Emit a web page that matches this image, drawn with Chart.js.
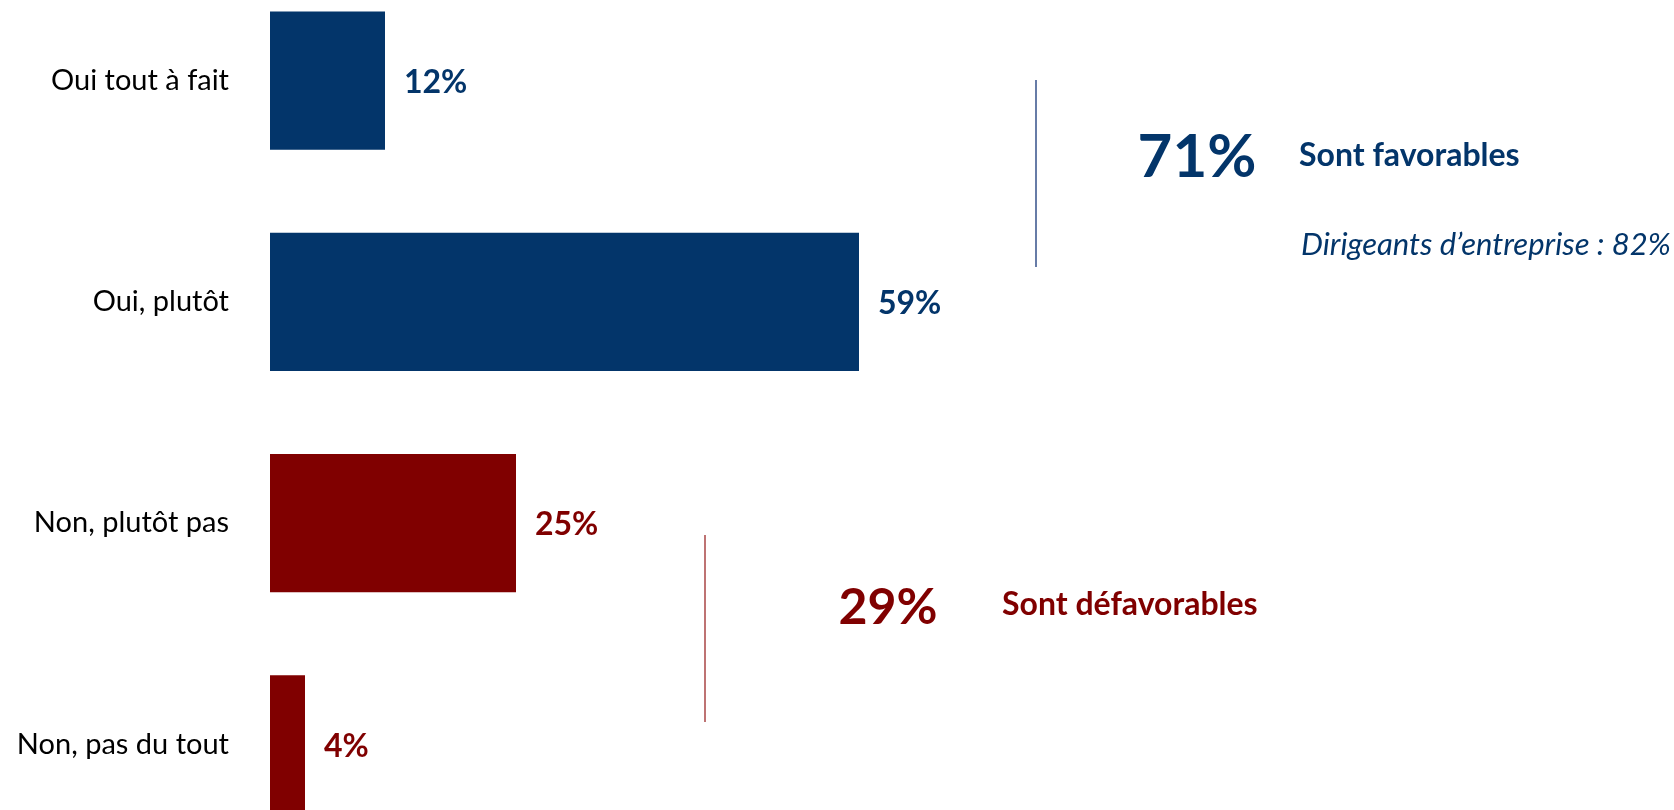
<!DOCTYPE html>
<html lang="fr">
<head>
<meta charset="utf-8">
<title>Sont favorables / défavorables</title>
<script src="https://cdn.jsdelivr.net/npm/chart.js@4/dist/chart.umd.min.js"></script>
<style>
    html, body { margin: 0; padding: 0; background: #fff; overflow: hidden; }
    body { width: 1674px; height: 810px; position: relative; }
    /* le graphique déborde un peu en haut et en bas, comme l'original */
    #zone { position: absolute; left: 0; top: -30px; width: 1674px; height: 885px; }
</style>
</head>
<body>
<div id="zone"><canvas id="graphique"></canvas></div>
<script>
// Données
const categories = ['Oui tout à fait', 'Oui, plutôt', 'Non, plutôt pas', 'Non, pas du tout'];
const valeurs = [11.7, 59.1, 24.8, 3.7];
const couleurs = ['#03356A', '#03356A', '#800000', '#800000'];
const groupes = [
    { titre: 'Sont favorables', indices: [0, 1], note: 'Dirigeants d\u2019entreprise : 82%' },
    { titre: 'Sont défavorables', indices: [2, 3], note: '' }
];

const POLICE = 'Lato, "Open Sans", sans-serif';
const DECALAGE = 30; // le canvas commence 30px au-dessus de la page

const pct = (v) => Math.round(v) + '%';
const totalGroupe = (g) => g.indices.reduce((s, i) => s + Math.round(valeurs[i]), 0);

// Étiquettes au bout des barres
const etiquettesBarres = {
    id: 'etiquettesBarres',
    afterDatasetsDraw(chart) {
        const ctx = chart.ctx;
        const meta = chart.getDatasetMeta(0);
        ctx.save();
        ctx.font = 'bold 32px ' + POLICE;
        ctx.textAlign = 'left';
        ctx.textBaseline = 'middle';
        meta.data.forEach((barre, i) => {
            ctx.fillStyle = couleurs[i];
            ctx.fillText(pct(valeurs[i]), barre.x + 18, barre.y + 2);
        });
        ctx.restore();
    }
};

// Totaux favorables / défavorables avec leur trait vertical
const totaux = {
    id: 'totaux',
    afterDraw(chart) {
        const ctx = chart.ctx;
        const y = (v) => v + DECALAGE;
        const blocs = [
            { trait: [1036, 80, 267], couleurTrait: '#34508A', total: [1197, 177, 60],
              titre: [1299, 166], note: [1301, 255], couleur: '#03356A' },
            { trait: [705, 535, 722], couleurTrait: '#A84444', total: [888, 624, 50],
              titre: [1002, 615], note: null, couleur: '#800000' }
        ];
        ctx.save();
        blocs.forEach((b, k) => {
            const g = groupes[k];
            ctx.strokeStyle = b.couleurTrait;
            ctx.lineWidth = 1.5;
            ctx.beginPath();
            ctx.moveTo(b.trait[0], y(b.trait[1]));
            ctx.lineTo(b.trait[0], y(b.trait[2]));
            ctx.stroke();

            ctx.fillStyle = b.couleur;
            ctx.textBaseline = 'alphabetic';
            ctx.textAlign = 'center';
            ctx.font = 'bold ' + b.total[2] + 'px ' + POLICE;
            ctx.fillText(totalGroupe(g) + '%', b.total[0], y(b.total[1]));

            ctx.textAlign = 'left';
            ctx.font = 'bold 32px ' + POLICE;
            ctx.fillText(g.titre, b.titre[0], y(b.titre[1]));

            if (b.note && g.note) {
                ctx.font = 'italic 31px ' + POLICE;
                ctx.fillText(g.note, b.note[0], y(b.note[1]));
            }
        });
        ctx.restore();
    }
};

new Chart(document.getElementById('graphique'), {
    type: 'bar',
    data: {
        labels: categories,
        datasets: [{
            data: valeurs,
            backgroundColor: couleurs,
            borderColor: 'rgba(255, 255, 255, 0.35)',
            borderWidth: 1,
            borderSkipped: false,
            barPercentage: 0.633,
            categoryPercentage: 1
        }]
    },
    options: {
        indexAxis: 'y',
        responsive: true,
        maintainAspectRatio: false,
        animation: false,
        layout: { padding: { left: 0, right: 5, top: 0, bottom: 0 } },
        scales: {
            x: { display: false, min: 0, max: 140 },
            y: {
                grid: { display: false, drawTicks: false },
                border: { display: false },
                ticks: {
                    color: '#000',
                    font: { family: POLICE, size: 29 },
                    padding: 40
                },
                afterFit: (scale) => {
                    scale.width = 269;
                    // pas de marge haute/basse pour les libellés
                    scale.paddingTop = 0;
                    scale.paddingBottom = 0;
                }
            }
        },
        plugins: {
            legend: { display: false },
            tooltip: { enabled: false }
        }
    },
    plugins: [etiquettesBarres, totaux]
});
</script>
</body>
</html>
